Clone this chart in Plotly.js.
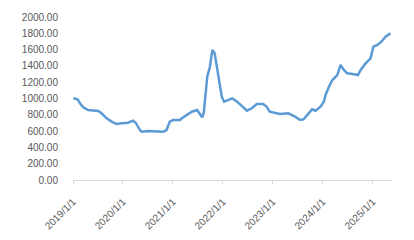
<!DOCTYPE html>
<html>
<head>
<meta charset="utf-8">
<script src="https://cdn.plot.ly/plotly-3.0.1.min.js"></script>
<style>html,body{margin:0;padding:0;background:#fff;}#chart{width:414px;height:240px;}</style>
</head>
<body>
<div id="chart"></div>
<script>
var dates = [
"2019-01-03","2019-01-20","2019-02-04","2019-02-21","2019-03-17","2019-04-22","2019-06-10","2019-07-04","2019-07-29",
"2019-09-04","2019-10-11","2019-11-16","2019-12-23","2020-02-08","2020-03-16","2020-04-03","2020-05-05",
"2020-05-17","2020-07-04","2020-08-22","2020-10-22","2020-11-15","2020-12-09","2021-01-03","2021-01-16",
"2021-02-22","2021-03-07","2021-04-13","2021-05-19","2021-06-26","2021-07-20","2021-08-03","2021-08-14",
"2021-08-27","2021-09-09","2021-09-28","2021-10-16","2021-11-02","2021-11-22","2021-12-11","2021-12-24",
"2022-01-10","2022-02-14","2022-03-11","2022-04-15","2022-05-21","2022-06-26","2022-08-01","2022-09-06",
"2022-10-23","2022-11-16","2022-12-10","2023-01-28","2023-02-22","2023-04-24","2023-06-13","2023-07-20",
"2023-08-14","2023-09-20","2023-10-16","2023-11-09","2023-12-16","2024-01-10","2024-01-22","2024-02-16",
"2024-03-12","2024-04-17","2024-05-11","2024-06-04","2024-06-29","2024-08-17","2024-09-15","2024-10-05",
"2024-11-10","2024-12-16","2025-01-06","2025-02-04","2025-03-05","2025-04-05","2025-05-11"
];
var values = [
1002,1000,990,941,892,859,850,847,818,
757,716,687,695,703,728,703,613,
593,601,601,593,613,716,736,736,
736,757,798,838,859,798,769,818,
1022,1268,1390,1595,1554,1350,1186,1022,
961,982,1002,961,900,850,880,933,
933,900,838,818,810,818,777,736,
745,818,867,850,900,961,1043,1145,
1227,1288,1411,1350,1309,1297,1288,1350,
1432,1493,1636,1657,1697,1759,1800
];
var yTicks = [0,200,400,600,800,1000,1200,1400,1600,1800,2000];
var xTicks = ["2019-01-01","2020-01-01","2021-01-01","2022-01-01","2023-01-01","2024-01-01","2025-01-01"];
var xTickText = ["2019/1/1","2020/1/1","2021/1/1","2022/1/1","2023/1/1","2024/1/1","2025/1/1"];

var trace = {
  x: dates, y: values, type: "scatter", mode: "lines",
  line: {color: "#5b9bd5", width: 2.5}, hoverinfo: "none"
};
var layout = {
  width: 414, height: 240,
  margin: {l: 73, r: 22, t: 17, b: 60},
  paper_bgcolor: "#fff", plot_bgcolor: "#fff",
  showlegend: false,
  font: {family: "Liberation Sans, Arial, sans-serif", color: "#595959", size: 10},
  xaxis: {
    type: "date", range: ["2019-01-01", "2025-05-22"],
    tickmode: "array", tickvals: xTicks, ticktext: xTickText,
    tickangle: -45, showgrid: false, zeroline: false,
    showline: true, linecolor: "#d9d9d9", linewidth: 1,
    ticks: "outside", ticklen: 3, tickcolor: "#d9d9d9",
    ticklabelstandoff: 8,
    tickfont: {size: 10, color: "#595959"}
  },
  yaxis: {
    range: [0, 2000], tickmode: "array", tickvals: yTicks,
    tickformat: ".2f", showgrid: false, zeroline: false, showline: false,
    ticklabelstandoff: 14,
    tickfont: {size: 10, color: "#595959"}
  }
};
Plotly.newPlot("chart", [trace], layout, {staticPlot: true, displayModeBar: false});
</script>
</body>
</html>
